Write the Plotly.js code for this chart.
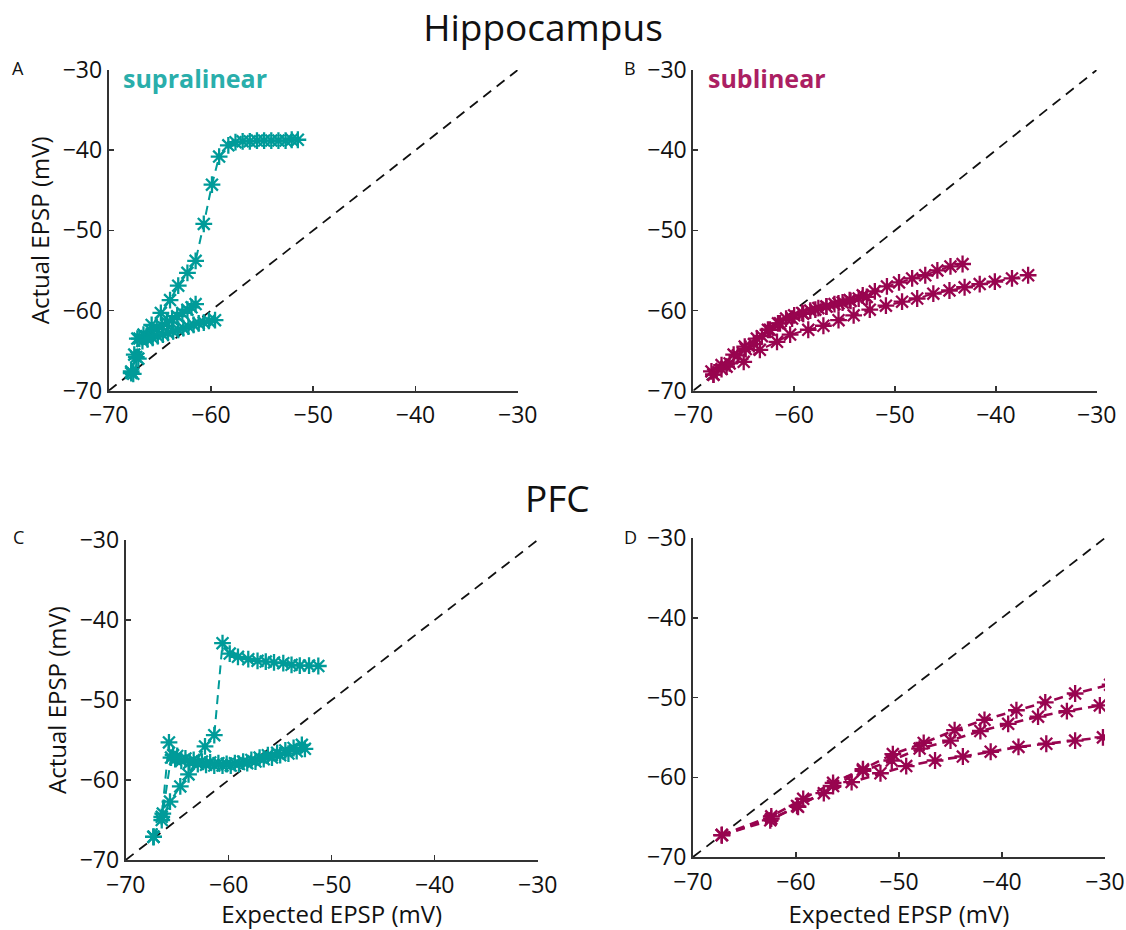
<!DOCTYPE html>
<html>
<head>
<meta charset="utf-8">
<script src="https://cdn.plot.ly/plotly-3.0.1.min.js"></script>
<style>html,body{margin:0;padding:0;background:#fff;}#chart{width:1126px;height:930px;}</style>
</head>
<body>
<div id="chart"></div>
<script>
// ---- Data (mV) ----
const refLine = [-70, -30];

// Panel A: Hippocampus, supralinear
const A1x = [-67.8, -67.5, -67.2, -66.6, -65.8, -64.9, -64.0, -63.2, -62.3, -61.5, -60.7, -59.9, -59.2, -58.3, -57.6, -56.9, -56.2, -55.5, -54.8, -54.1, -53.4, -52.7, -52.1, -51.5];
const A1y = [-67.8, -65.5, -63.5, -63.0, -61.8, -60.3, -58.7, -56.9, -55.3, -53.8, -49.2, -44.3, -40.8, -39.4, -39.0, -38.9, -38.9, -38.8, -38.8, -38.8, -38.8, -38.8, -38.7, -38.7];
const A2x = [-67.8, -67.3, -67.0, -66.3, -65.8, -65.3, -64.8, -64.3, -63.8, -63.3, -62.8, -62.3, -61.9, -61.5];
const A2y = [-67.6, -65.8, -63.5, -63.2, -62.6, -62.3, -61.9, -61.5, -61.1, -60.7, -60.3, -59.9, -59.6, -59.2];
const A3x = [-67.6, -67.1, -66.7, -66.2, -65.7, -65.2, -64.7, -64.2, -63.7, -63.2, -62.7, -62.2, -61.7, -61.2, -60.7, -60.2, -59.6];
const A3y = [-67.9, -66.0, -63.8, -63.6, -63.4, -63.2, -63.0, -62.8, -62.6, -62.4, -62.2, -62.0, -61.8, -61.6, -61.5, -61.3, -61.2];

// Panel B: Hippocampus, sublinear
const B1x = [-68.2, -67.2, -66.0, -64.9, -63.7, -62.6, -61.4, -60.2, -59.1, -57.9, -56.8, -55.6, -54.5, -53.2, -52.0, -50.8, -49.6, -48.3, -47.0, -45.8, -44.5, -43.3];
const B1y = [-67.6, -66.8, -65.5, -64.5, -63.5, -62.4, -61.6, -61.0, -60.4, -59.9, -59.5, -59.1, -58.7, -58.1, -57.6, -57.0, -56.5, -56.0, -55.6, -55.0, -54.5, -54.2];
const B2x = [-68.0, -66.7, -65.0, -63.4, -61.7, -60.4, -58.6, -57.1, -55.6, -54.1, -52.5, -50.9, -49.3, -47.8, -46.2, -44.6, -43.1, -41.6, -40.1, -38.4, -36.8];
const B2y = [-68.0, -67.0, -66.4, -64.9, -63.9, -63.0, -62.4, -61.9, -61.2, -60.6, -59.9, -59.4, -58.9, -58.5, -57.9, -57.5, -57.1, -56.7, -56.4, -56.0, -55.6];
const B3x = [-68.0, -67.2, -66.4, -65.6, -64.8, -64.0, -63.2, -62.4, -61.6, -60.8, -60.0, -59.2, -58.4, -57.6, -56.8, -56.0, -55.2, -54.4, -53.6, -52.8];
const B3y = [-68.0, -67.3, -66.6, -65.6, -64.8, -64.2, -63.2, -62.4, -61.6, -61.0, -60.6, -60.3, -60.0, -59.7, -59.5, -59.2, -59.0, -58.8, -58.5, -58.3];

// Panel C: PFC, supralinear
const C1x = [-67.3, -66.5, -65.7, -64.7, -63.9, -62.3, -61.4, -60.6, -59.9, -59.1, -58.1, -57.2, -56.4, -55.6, -54.7, -53.9, -53.1, -52.2, -51.3];
const C1y = [-67.1, -65.0, -62.7, -60.8, -59.3, -55.8, -54.4, -42.9, -44.2, -44.6, -44.9, -45.1, -45.2, -45.3, -45.4, -45.6, -45.7, -45.7, -45.75];
const C2x = [-67.3, -66.5, -65.8, -65.4, -65.0, -64.2, -63.4, -62.6, -61.8, -61.0, -60.2, -59.4, -58.6, -57.8, -57.0, -56.2, -55.3, -54.5, -53.7, -52.9];
const C2y = [-67.1, -64.6, -55.3, -56.9, -57.0, -57.3, -57.5, -57.7, -57.8, -57.9, -58.0, -57.9, -57.7, -57.5, -57.2, -56.9, -56.6, -56.3, -56.0, -55.6];
const C3x = [-67.3, -66.4, -65.6, -65.2, -64.6, -63.8, -63.0, -62.2, -61.4, -60.6, -59.8, -59.0, -58.2, -57.4, -56.6, -55.8, -55.0, -54.2, -53.4, -52.6];
const C3y = [-67.1, -64.2, -57.2, -57.4, -57.6, -57.8, -58.0, -58.1, -58.2, -58.2, -58.2, -58.0, -57.9, -57.7, -57.4, -57.2, -56.9, -56.7, -56.4, -56.1];

// Panel D: PFC, sublinear
const D1x = [-67.2, -62.4, -59.3, -56.4, -53.5, -50.6, -47.6, -44.6, -41.7, -38.6, -35.8, -32.9, -29.5];
const D1y = [-67.25, -64.9, -62.7, -60.7, -59.0, -57.1, -55.7, -54.1, -52.8, -51.6, -50.6, -49.5, -48.4];
const D2x = [-67.2, -62.4, -59.8, -56.4, -53.5, -50.7, -48.0, -45.0, -42.1, -39.4, -36.5, -33.7, -30.5];
const D2y = [-67.25, -65.2, -63.7, -61.1, -59.2, -57.9, -56.4, -55.4, -54.2, -53.3, -52.4, -51.7, -51.0];
const D3x = [-67.2, -62.5, -59.9, -57.3, -54.6, -51.8, -49.3, -46.5, -43.8, -41.1, -38.4, -35.7, -32.9, -30.2];
const D3y = [-67.25, -65.4, -63.6, -62.0, -60.6, -59.5, -58.6, -57.9, -57.4, -56.8, -56.2, -55.8, -55.4, -55.0];

const tickVals = [-70, -60, -50, -40, -30];
const tickText = ['\u221270', '\u221260', '\u221250', '\u221240', '\u221230'];

// ---- Styles ----
const TEAL = '#009b99';
const MAG = '#98044f';
const FONT = 'Open Sans, Noto Sans, sans-serif';

function series(x, y, color, xa, ya, lw) {
  return {
    x: x, y: y, xaxis: xa, yaxis: ya, type: 'scatter', mode: 'lines+markers',
    line: {color: color, width: lw, dash: '9px,6px'},
    marker: {symbol: 'asterisk-open', size: 14, color: color, line: {color: color, width: 2.3}},
    showlegend: false, hoverinfo: 'x+y'
  };
}
function ref(xa, ya) {
  return {
    x: refLine, y: refLine, xaxis: xa, yaxis: ya, type: 'scatter', mode: 'lines',
    line: {color: '#111', width: 1.8, dash: '10px,7px'}, showlegend: false, hoverinfo: 'skip'
  };
}

const traces = [
  ref('x', 'y'), series(A1x, A1y, TEAL, 'x', 'y', 2), series(A2x, A2y, TEAL, 'x', 'y', 2), series(A3x, A3y, TEAL, 'x', 'y', 2),
  ref('x2', 'y2'), series(B1x, B1y, MAG, 'x2', 'y2', 2), series(B2x, B2y, MAG, 'x2', 'y2', 2), series(B3x, B3y, MAG, 'x2', 'y2', 2),
  ref('x3', 'y3'), series(C1x, C1y, TEAL, 'x3', 'y3', 2), series(C2x, C2y, TEAL, 'x3', 'y3', 2), series(C3x, C3y, TEAL, 'x3', 'y3', 2),
  ref('x4', 'y4'), series(D1x, D1y, MAG, 'x4', 'y4', 2.6), series(D2x, D2y, MAG, 'x4', 'y4', 2.6), series(D3x, D3y, MAG, 'x4', 'y4', 2.6)
];

const W = 1126, H = 930;
function px(a, b) { return [a / W, b / W]; }
function py(top, bottom) { return [1 - bottom / H, 1 - top / H]; }

function axis(domain, anchor, title, isX) {
  const a = {
    domain: domain, anchor: anchor, range: [-70, -30], tickvals: tickVals, ticktext: tickText,
    showgrid: false, zeroline: false, showline: true, linecolor: '#333', linewidth: 2,
    ticks: 'inside', ticklen: 5, tickwidth: 1.5, tickcolor: '#333',
    tickfont: {family: FONT, size: 23, color: '#111'}, automargin: false, fixedrange: true
  };
  if (isX) a.ticklabelstandoff = 3;
  if (title) a.title = {text: title, font: {family: FONT, size: 24, color: '#111'}, standoff: isX ? 14 : 6};
  return a;
}

const layout = {
  width: W, height: H, margin: {l: 0, r: 0, t: 0, b: 0}, paper_bgcolor: '#fff', plot_bgcolor: 'rgba(0,0,0,0)',
  showlegend: false,
  title: {text: 'Hippocampus', font: {family: FONT, size: 37, color: '#111'}, x: 543 / W, y: 1 - 28 / H, xanchor: 'center', yanchor: 'middle', xref: 'paper', yref: 'paper'},
  xaxis: axis(px(108.7, 517.7), 'y', null, true),
  yaxis: axis(py(70, 390.7), 'x', 'Actual EPSP (mV)'),
  xaxis2: axis(px(693.3, 1096.7), 'y2', null, true),
  yaxis2: axis(py(70, 390.7), 'x2'),
  xaxis3: axis(px(125.7, 537.7), 'y3', 'Expected EPSP (mV)', true),
  yaxis3: axis(py(540, 860), 'x3', 'Actual EPSP (mV)'),
  xaxis4: axis(px(693, 1105), 'y4', 'Expected EPSP (mV)', true),
  yaxis4: axis(py(538, 857), 'x4'),
  annotations: [
    {text: 'PFC', x: 557 / W, y: 1 - 497 / H, xref: 'paper', yref: 'paper', showarrow: false, xanchor: 'center', yanchor: 'middle', font: {family: FONT, size: 37, color: '#111'}},
    {text: 'A', x: 18 / W, y: 1 - 68 / H, xref: 'paper', yref: 'paper', showarrow: false, xanchor: 'center', yanchor: 'middle', font: {family: FONT, size: 18, color: '#111'}},
    {text: 'B', x: 630 / W, y: 1 - 68 / H, xref: 'paper', yref: 'paper', showarrow: false, xanchor: 'center', yanchor: 'middle', font: {family: FONT, size: 18, color: '#111'}},
    {text: 'C', x: 18 / W, y: 1 - 537 / H, xref: 'paper', yref: 'paper', showarrow: false, xanchor: 'center', yanchor: 'middle', font: {family: FONT, size: 18, color: '#111'}},
    {text: 'D', x: 630 / W, y: 1 - 537 / H, xref: 'paper', yref: 'paper', showarrow: false, xanchor: 'center', yanchor: 'middle', font: {family: FONT, size: 18, color: '#111'}},
    {text: '<b>supralinear</b>', x: 121 / W, y: 1 - 78 / H, xref: 'paper', yref: 'paper', showarrow: false, xanchor: 'left', yanchor: 'middle', font: {family: FONT, size: 25, color: '#2aaeab'}},
    {text: '<b>sublinear</b>', x: 706 / W, y: 1 - 78 / H, xref: 'paper', yref: 'paper', showarrow: false, xanchor: 'left', yanchor: 'middle', font: {family: FONT, size: 25, color: '#ab1f63'}}
  ]
};

Plotly.newPlot('chart', traces, layout, {displayModeBar: false, staticPlot: true});
</script>
</body>
</html>
